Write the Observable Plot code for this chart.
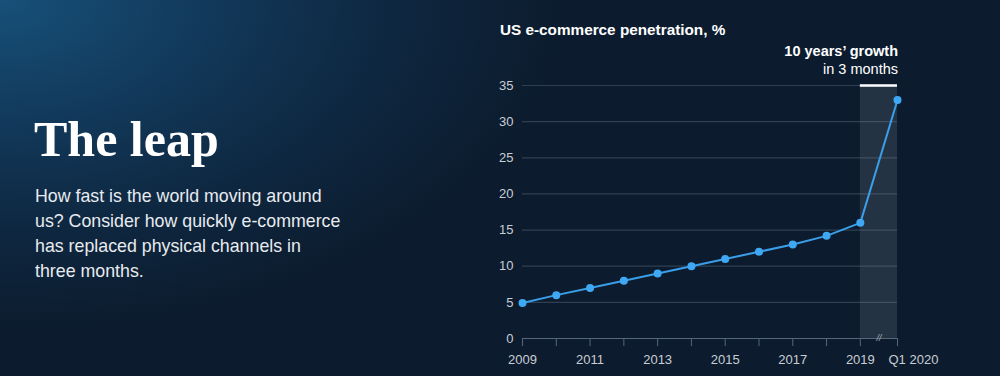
<!DOCTYPE html>
<html>
<head>
<meta charset="utf-8">
<script src="https://cdn.jsdelivr.net/npm/d3@7"></script>
<script src="https://cdn.jsdelivr.net/npm/@observablehq/plot@0.6"></script>
<style>
  html, body { margin: 0; padding: 0; }
  body {
    width: 1000px; height: 376px; overflow: hidden; position: relative;
    background: radial-gradient(ellipse 560px 330px at 0px 0px, #175079 0%, #123a5c 35%, #0e2740 70%, #0c1c2e 100%), #0c1b2c;
    background-color: #0c1b2c;
    font-family: "Liberation Sans", Arial, sans-serif;
  }
  #headline { position: absolute; left: 34px; top: 114px; font-family: "Liberation Serif", serif; font-weight: bold; font-size: 50px; line-height: 50px; color: #ffffff; }
  #dek { position: absolute; left: 35px; top: 184px; white-space: nowrap; font-size: 17.8px; line-height: 25px; color: #e8ebef; }
  #ctitle { position: absolute; left: 500px; top: 21px; font-size: 15.3px; font-weight: bold; color: #ffffff; }
  #anno { position: absolute; right: 102px; top: 42px; text-align: right; font-size: 14.5px; line-height: 18px; color: #ffffff; }
  #anno b { font-weight: bold; }
  #chart { position: absolute; left: 490px; top: 75px; }
</style>
</head>
<body>
<div id="headline">The leap</div>
<div id="dek">How fast is the world moving around<br>us? Consider how quickly e-commerce<br>has replaced physical channels in<br>three months.</div>
<div id="ctitle">US e-commerce penetration, %</div>
<div id="anno"><b>10 years’ growth</b><br>in 3 months</div>
<div id="chart"></div>
<script>
// Data
const periods = ["2009","2010","2011","2012","2013","2014","2015","2016","2017","2018","2019","Q1 2020"];
const periodX = [2009, 2010, 2011, 2012, 2013, 2014, 2015, 2016, 2017, 2018, 2019, 2020.1];
const penetration = [4.9, 6.0, 7.0, 8.0, 9.0, 10.0, 11.0, 12.0, 13.0, 14.2, 16.0, 33.0];
const yTicks = [0, 5, 10, 15, 20, 25, 30, 35];
const xLabelYears = [2009, 2011, 2013, 2015, 2017, 2019];
const highlightFrom = 2019;
const highlightTo = 2020.1;
const lastLabel = "Q1 2020";

const data = periods.map((p, i) => ({period: p, x: periodX[i], value: penetration[i]}));

const chart = Plot.plot({
  width: 480,
  height: 300,
  marginLeft: 32,
  marginRight: 73,
  marginTop: 10,
  marginBottom: 37,
  x: {domain: [2009, 2020.1]},
  y: {domain: [0, 35]},
  style: {background: "transparent", color: "#c9ced5", fontFamily: "Liberation Sans, Arial, sans-serif", fontSize: "13px", overflow: "visible"},
  marks: [
    Plot.rect([{x1: highlightFrom, x2: highlightTo}], {x1: "x1", x2: "x2", y1: 0, y2: 35, fill: "#ffffff", fillOpacity: 0.1}),
    Plot.gridY(yTicks.filter(d => d > 0), {stroke: "#8a9bb0", strokeOpacity: 0.28, strokeWidth: 1.2}),
    Plot.ruleY([0], {stroke: "#56667a", strokeWidth: 1.2}),
    Plot.axisY(yTicks, {tickSize: 0, tickPadding: 9, label: null, fill: "#c9ced5"}),
    Plot.axisX(periodX, {tickSize: 8, tickPadding: 8, stroke: "#56667a", label: null, tickFormat: d => xLabelYears.includes(d) ? String(d) : "", fill: "#c9ced5"}),
    Plot.text([lastLabel], {x: highlightTo, y: 0, text: d => d, dy: 21, dx: -9, textAnchor: "start", fill: "#c9ced5", fontSize: 13}),
    Plot.text(["//"], {x: (highlightFrom + highlightTo) / 2, y: 0, text: d => d, fontSize: 9, fontStyle: "italic", fill: "#a9b2bd", dy: 0}),
    Plot.ruleY([35], {x1: highlightFrom, x2: highlightTo, stroke: "#ffffff", strokeWidth: 2.5}),
    Plot.line(data, {x: "x", y: "value", stroke: "#3a9ee8", strokeWidth: 2}),
    Plot.dot(data, {x: "x", y: "value", r: 4, fill: "#3fa8f4", stroke: "none"})
  ]
});
document.getElementById("chart").appendChild(chart);
</script>
</body>
</html>
